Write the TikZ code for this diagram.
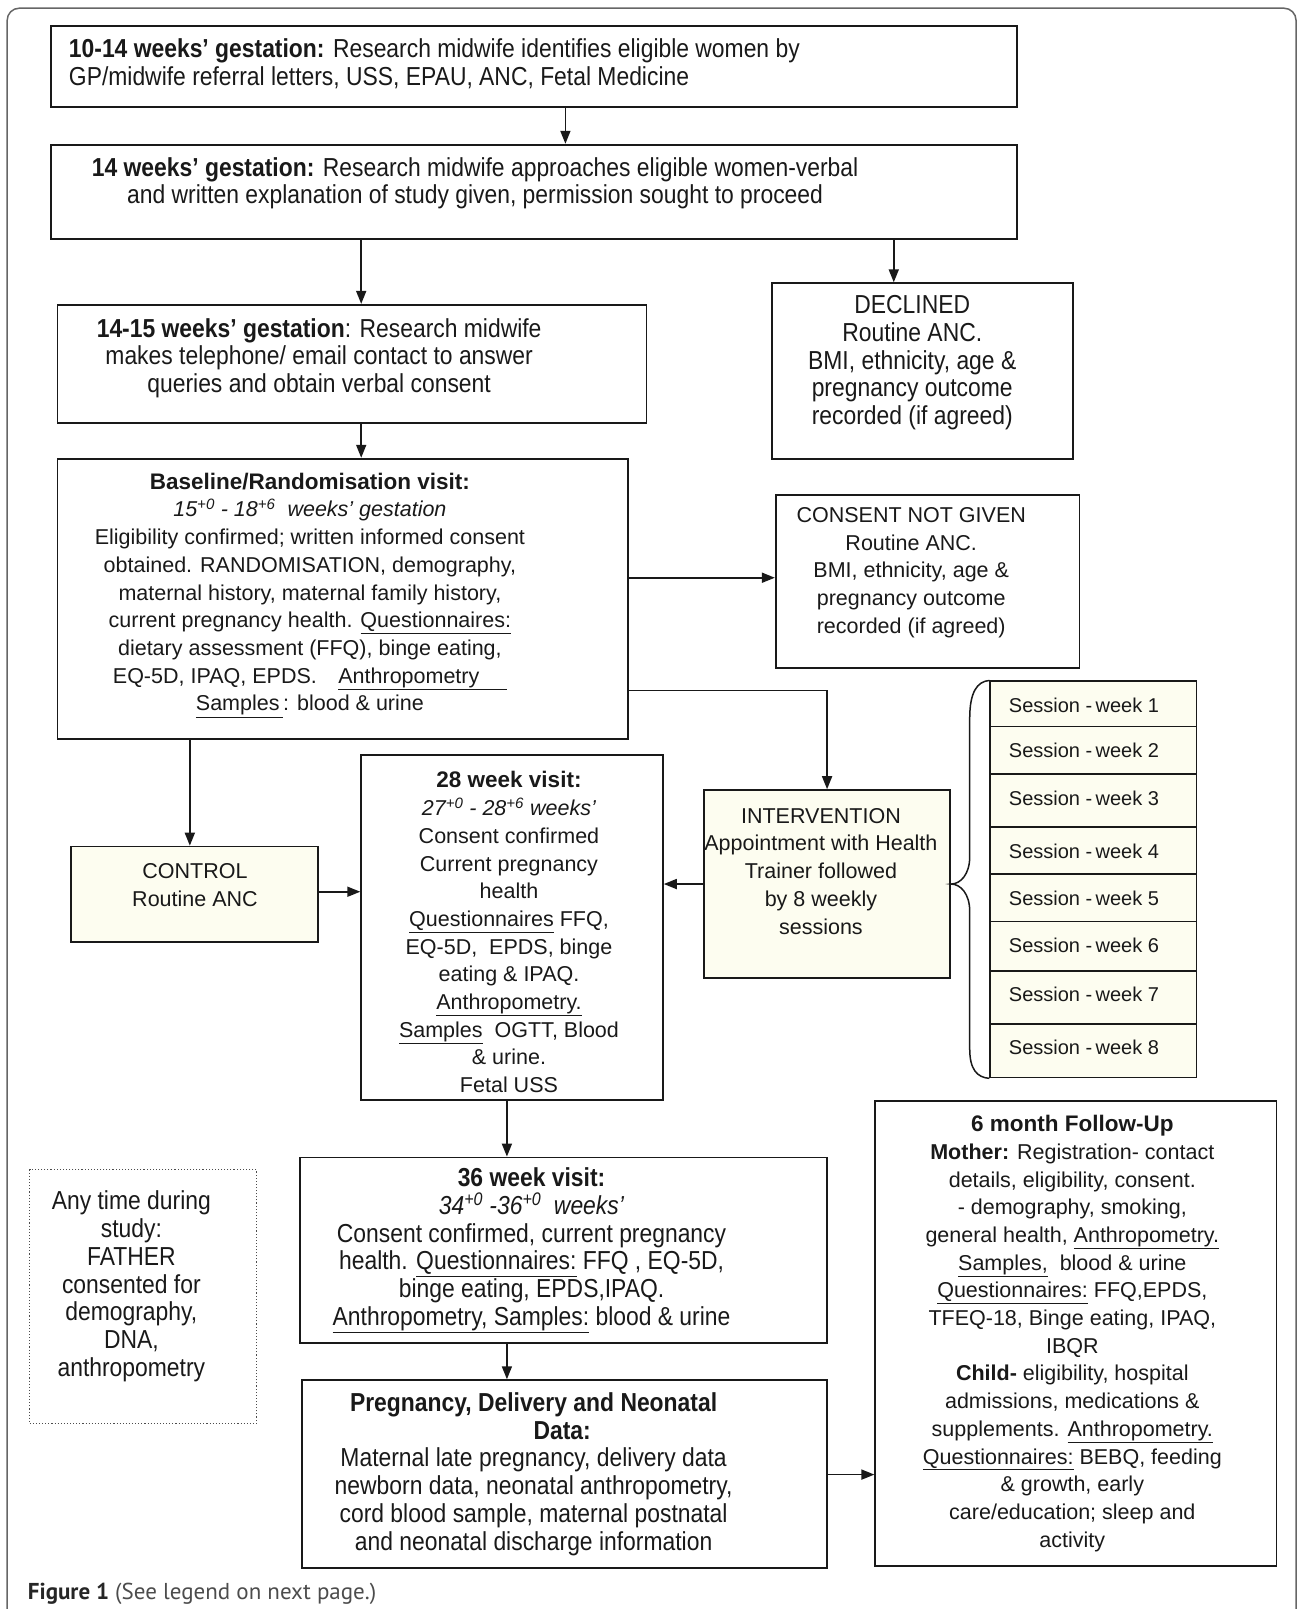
\documentclass[tikz,border=0pt]{standalone}
\usepackage{fontspec}
\setmainfont{Liberation Sans}
\newfontfamily\narrowfont[FakeStretch=0.88]{Liberation Sans}
\newfontfamily\capfont{PT Sans}
\usetikzlibrary{arrows.meta,fit,calc}
\definecolor{pale}{RGB}{253,253,240}
\definecolor{ink}{RGB}{25,25,25}
\tikzset{
  box/.style={draw=ink, line width=1.8pt, inner sep=0pt},
  ybox/.style={box, fill=pale},
  dotbox/.style={draw=black!70, dotted, line width=1.1pt, inner sep=0pt},
  reg/.style={inner sep=0pt, align=center, text=ink, font=\fontsize{21.5}{27.7}\selectfont},
  nar/.style={inner sep=0pt, align=center, text=ink, font=\narrowfont\fontsize{26}{27.7}\selectfont},
  sess/.style={inner sep=0pt, text=ink, font=\fontsize{20}{24}\selectfont},
  arr/.style={draw=ink, line width=1.7pt, -{Triangle[length=13pt,width=10pt]}},
  frame/.style={draw=black!60, line width=1.5pt, rounded corners=12pt}
}
\begin{document}
\begin{tikzpicture}[x=1.026pt,y=-1.026pt]
\useasboundingbox (0,0) rectangle (1269,1568);
% outer frame (open at bottom)
\draw[frame] (7,1568) -- (7,8) -- (1263,8) -- (1263,1568);

% boxes
\node[box, fit={(50,25) (991,104)}] (b1) {};
\node[box, fit={(50,141) (991,233)}] (b2) {};
\node[box, fit={(56,297) (630,412)}] (b3) {};
\node[box, fit={(752,276) (1046,447)}] (dec) {};
\node[box, fit={(56,447) (612,720)}] (base) {};
\node[box, fit={(756,482) (1052,651)}] (cng) {};
\node[ybox, fit={(69,825) (310,918)}] (ctrl) {};
\node[box, fit={(352,736) (646,1072)}] (w28) {};
\node[ybox, fit={(686,770) (926,953)}] (interv) {};
\node[ybox, fit={(965,664) (1166,708)}] (s1) {};
\node[ybox, fit={(965,708) (1166,754)}] (s2) {};
\node[ybox, fit={(965,754) (1166,806)}] (s3) {};
\node[ybox, fit={(965,806) (1166,852)}] (s4) {};
\node[ybox, fit={(965,852) (1166,898)}] (s5) {};
\node[ybox, fit={(965,898) (1166,946)}] (s6) {};
\node[ybox, fit={(965,946) (1166,998)}] (s7) {};
\node[ybox, fit={(965,998) (1166,1050)}] (s8) {};
\node[box, fit={(292,1128) (806,1309)}] (w36) {};
\node[box, fit={(294,1345) (806,1528)}] (preg) {};
\node[box, fit={(853,1073) (1244,1526)}] (six) {};
\node[dotbox, fit={(29,1140) (250,1387)}] (any) {};

% texts
\node[nar, align=left, anchor=west] (t1) at (67,62) {\textbf{10-14 weeks’ gestation:} Research midwife identifies eligible women by\\GP/midwife referral letters, USS, EPAU, ANC, Fetal Medicine};
\node[nar] (t2) at (463,178.5) {\textbf{14 weeks’ gestation:} Research midwife approaches eligible women-verbal\\and written explanation of study given, permission sought to proceed};
\node[nar] (t3) at (311,349) {\textbf{14-15 weeks’ gestation}: Research midwife\\makes telephone/ email contact to answer\\queries and obtain verbal consent};
\node[nar] (tdec) at (889,353.5) {DECLINED\\Routine ANC.\\BMI, ethnicity, age \&\\pregnancy outcome\\recorded (if agreed)};
\node[reg] (tcng) at (888,558) {CONSENT NOT GIVEN\\Routine ANC.\\BMI, ethnicity, age \&\\pregnancy outcome\\recorded (if agreed)};
\node[reg] (tbase) at (302,580) {{\fontsize{22.5}{27.7}\selectfont\textbf{Baseline/Randomisation visit:}}\\
\textit{15\textsuperscript{+0} - 18\textsuperscript{+6}\ \ weeks’ gestation}\\
Eligibility confirmed; written informed consent\\
obtained. RANDOMISATION, demography,\\
maternal history, maternal family history,\\
current pregnancy health. \underline{Questionnaires:}\\
dietary assessment (FFQ), binge eating,\\
EQ-5D, IPAQ, EPDS.\quad \underline{Anthropometry\quad\ }\\
\underline{Samples\,}: blood \& urine};
\node[reg] (tctrl) at (190,862.5) {CONTROL\\Routine ANC};
\node[reg] (tw28) at (496,908.5) {{\fontsize{22.5}{27.7}\selectfont\textbf{28 week visit:}}\\
\textit{27\textsuperscript{+0} - 28\textsuperscript{+6} weeks’}\\
Consent confirmed\\
Current pregnancy\\
health\\
\underline{Questionnaires} FFQ,\\
EQ-5D,\ \ EPDS,\ binge\\
eating \& IPAQ.\\
\underline{Anthropometry.}\\
\underline{Samples}\ \ OGTT,\ Blood\\
\& urine.\\
Fetal USS};
\node[reg] (tint) at (800,849) {INTERVENTION\\Appointment with Health\\Trainer followed\\by 8 weekly\\sessions};
\foreach \i/\yy in {1/687,2/731,3/778,4/830,5/875,6/921,7/969,8/1021}{
  \node[sess, anchor=west] (st\i) at (983,\yy) {Session -\,week \i};
}
\node[nar] (tw36) at (518,1218.5) {\textbf{36 week visit:}\\
\textit{34\textsuperscript{+0}\ -36\textsuperscript{+0}\ \ weeks’}\\
Consent confirmed, current pregnancy\\
health. \underline{Questionnaires:} FFQ , EQ-5D,\\
binge eating, EPDS,IPAQ.\\
\underline{Anthropometry, Samples:} blood \& urine};
\node[nar] (tpreg) at (520,1436.5) {\textbf{Pregnancy, Delivery and Neonatal}\\
\hspace*{2.2em}\textbf{Data:}\\
Maternal late pregnancy, delivery data\\
newborn data, neonatal anthropometry,\\
cord blood sample, maternal postnatal\\
and neonatal discharge information};
\node[reg] (tsix) at (1045,1299.5) {{\fontsize{22.5}{27.7}\selectfont\textbf{6 month Follow-Up}}\\
\textbf{Mother:} Registration- contact\\
details, eligibility, consent.\\
- demography, smoking,\\
general health, \underline{Anthropometry.}\\
\underline{Samples,}\ \ blood \& urine\\
\underline{Questionnaires:} FFQ,EPDS,\\
TFEQ-18, Binge eating, IPAQ,\\
IBQR\\
\textbf{Child-} eligibility, hospital\\
admissions, medications \&\\
supplements. \underline{Anthropometry.}\\
\underline{Questionnaires:} BEBQ, feeding\\
\& growth, early\\
care/education; sleep and\\
activity};
\node[nar] (tany) at (128,1253.5) {Any time during\\study:\\FATHER\\consented for\\demography,\\DNA,\\anthropometry};
\node[inner sep=0pt, anchor=west, font=\capfont\fontsize{23}{26}\selectfont, text=black!70] (cap) at (27,1553) {\textbf{\color{black!85}Figure 1} (See legend on next page.)};

% helper coordinates
\coordinate (c551) at (551,0);
\coordinate (c352) at (352,0);
\coordinate (c871) at (871,0);
\coordinate (c185) at (185,0);
\coordinate (c806) at (806,0);
\coordinate (c494) at (494,0);
\coordinate (r563) at (0,563);
\coordinate (r673) at (0,673);
\coordinate (r869) at (0,869);
\coordinate (r1437) at (0,1437);

% connectors
\draw[arr] (b1.south -| c551) -- (b2.north -| c551);
\draw[arr] (b2.south -| c352) -- (b3.north -| c352);
\draw[arr] (b2.south -| c871) -- (dec.north -| c871);
\draw[arr] (b3.south -| c352) -- (base.north -| c352);
\draw[arr] (base.east |- r563) -- (cng.west |- r563);
\draw[arr] (base.east |- r673) -| (interv.north -| c806);
\draw[arr] (base.south -| c185) -- (ctrl.north -| c185);
\draw[arr] (ctrl.east |- r869) -- (w28.west |- r869);
\draw[arr] (interv.west) -- (w28.east |- interv.west);
\draw[arr] (w28.south -| c494) -- (w36.north -| c494);
\draw[arr] (w36.south -| c494) -- (preg.north -| c494);
\draw[arr] (preg.east |- r1437) -- (six.west |- r1437);

% brace
\draw[draw=ink, line width=1.5pt] (s1.north west) .. controls (952,664) and (945,675) .. (945,700) -- (945,835) .. controls (945,852) and (936,861.5) .. (interv.east) .. controls (936,861.5) and (945,871) .. (945,888) -- (945,1022) .. controls (945,1042) and (952,1050) .. (s8.south west);
\end{tikzpicture}
\end{document}
